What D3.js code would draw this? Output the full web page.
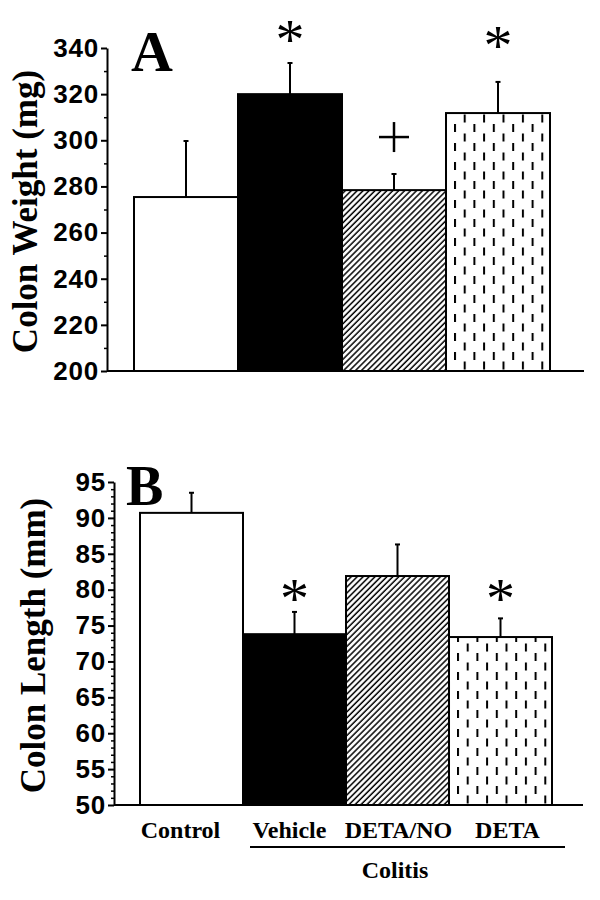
<!DOCTYPE html>
<html>
<head>
<meta charset="utf-8">
<script src="https://cdn.jsdelivr.net/npm/d3@7"></script>
<style>
  body { margin: 0; background: #fff; }
  svg { display: block; }
</style>
</head>
<body>
<svg width="600" height="900"></svg>
<script>
// groups on the x axis
const categories = ["Control", "Vehicle", "DETA/NO", "DETA"];

// panel A: colon weight (mg), mean and upper SEM
const weightMeans = [275.4, 320, 278.4, 311.8];
const weightErrors = [24.3, 13.5, 7, 13.5];
const weightTicks = [200, 220, 240, 260, 280, 300, 320, 340];
const weightMinor = [210, 230, 250, 270, 290, 310, 330];
const weightMarks = ["", "*", "+", "*"];
const weightMarkAt = [null, 347.4, 301.4, 344.8];

// panel B: colon length (mm)
const lengthMeans = [90.7, 73.8, 81.9, 73.4];
const lengthErrors = [2.8, 3.1, 4.4, 2.6];
const lengthTicks = [50, 55, 60, 65, 70, 75, 80, 85, 90, 95];
const lengthMinor = d3.range(51, 95).filter(v => v % 5 !== 0);
const lengthMarks = ["", "*", "", "*"];
const lengthMarkAt = [null, 79.9, null, 80];

const groupLabel = "Colitis";
const fills = ["#fff", "#000", "url(#hatch)", null];

const svg = d3.select("svg");
const serif = "'Liberation Serif', 'Times New Roman', serif";
const sans = "'Liberation Sans', Arial, sans-serif";

const defs = svg.append("defs");
let hatch = defs.append("pattern")
    .attr("id", "hatch")
    .attr("patternUnits", "userSpaceOnUse")
    .attr("width", 4.2).attr("height", 4.2)
    .attr("patternTransform", "rotate(45)");
hatch.append("rect").attr("width", 4.2).attr("height", 4.2).attr("fill", "#fff");
hatch.append("line")
    .attr("x1", 1).attr("y1", 0).attr("x2", 1).attr("y2", 4.2)
    .attr("stroke", "#000").attr("stroke-width", 1.5);

function dashPattern(id, x0, y0) {
  let p = defs.append("pattern")
      .attr("id", id)
      .attr("patternUnits", "userSpaceOnUse")
      .attr("x", x0).attr("y", y0)
      .attr("width", 19.4).attr("height", 19);
  p.append("rect").attr("width", 19.4).attr("height", 19).attr("fill", "#fff");
  p.append("rect").attr("x", 0).attr("y", 0).attr("width", 2).attr("height", 8).attr("fill", "#000");
  p.append("rect").attr("x", 9.7).attr("y", 9.5).attr("width", 2).attr("height", 8).attr("fill", "#000");
}

function panel(opt) {
  let g = svg.append("g");
  let x = d3.scaleBand().domain(categories).range(opt.bars).padding(0);
  let y = d3.scaleLinear().domain(opt.domain).range(opt.yRange);

  dashPattern(opt.dashId, x("DETA") + 8, opt.yRange[1]);

  // bars
  g.selectAll(".bar")
    .data(categories)
    .enter().append("rect")
    .attr("class", "bar")
    .attr("x", d => x(d))
    .attr("width", x.bandwidth())
    .attr("y", (d, i) => y(opt.means[i]))
    .attr("height", (d, i) => y(opt.domain[0]) - y(opt.means[i]))
    .attr("fill", (d, i) => fills[i] || `url(#${opt.dashId})`)
    .attr("stroke", "#000")
    .attr("stroke-width", 2);

  // upper error bars
  let eb = g.selectAll(".err")
    .data(categories)
    .enter().append("g")
    .attr("class", "err")
    .attr("transform", d => `translate(${x(d) + x.bandwidth() / 2},0)`);
  eb.append("line")
    .attr("y1", (d, i) => y(opt.means[i]))
    .attr("y2", (d, i) => y(opt.means[i] + opt.errors[i]))
    .attr("stroke", "#000").attr("stroke-width", 2);
  eb.append("line")
    .attr("x1", -2.5).attr("x2", 2.5)
    .attr("y1", (d, i) => y(opt.means[i] + opt.errors[i]))
    .attr("y2", (d, i) => y(opt.means[i] + opt.errors[i]))
    .attr("stroke", "#000").attr("stroke-width", 2);

  // significance marks
  categories.forEach((c, i) => {
    let m = opt.marks[i];
    if (!m) return;
    let cx = x(c) + x.bandwidth() / 2, cy = y(opt.markAt[i]);
    if (m === "*") {
      g.append("text")
        .attr("x", cx).attr("y", cy + 28)
        .attr("text-anchor", "middle")
        .style("font-family", serif)
        .style("font-size", "58px")
        .text("*");
    } else {
      g.append("line").attr("x1", cx - 15).attr("x2", cx + 15)
        .attr("y1", cy).attr("y2", cy).attr("stroke", "#000").attr("stroke-width", 2.5);
      g.append("line").attr("x1", cx).attr("x2", cx)
        .attr("y1", cy - 15).attr("y2", cy + 15).attr("stroke", "#000").attr("stroke-width", 2.5);
    }
  });

  // baseline
  g.append("line")
    .attr("x1", opt.axisX).attr("x2", opt.baseEnd)
    .attr("y1", y(opt.domain[0])).attr("y2", y(opt.domain[0]))
    .attr("stroke", "#000").attr("stroke-width", 2);

  // y axis
  let minor = g.append("g")
    .attr("transform", `translate(${opt.axisX},0)`)
    .call(d3.axisLeft(y).tickValues(opt.minor).tickSize(3).tickSizeOuter(0).tickFormat(""));
  minor.select(".domain").remove();
  minor.selectAll("line").attr("stroke-width", 1.5);

  let ax = g.append("g")
    .attr("transform", `translate(${opt.axisX},0)`)
    .call(d3.axisLeft(y).tickValues(opt.ticks).tickSize(6).tickSizeOuter(0).tickPadding(2));
  ax.select(".domain").attr("stroke-width", 2);
  ax.selectAll(".tick line").attr("stroke-width", 2);
  ax.selectAll("text")
    .style("font-family", sans)
    .style("font-weight", "bold")
    .style("font-size", "26px")
    .style("letter-spacing", "0.8px")
    .attr("fill", "#000");

  // axis title
  g.append("text")
    .attr("transform", `translate(${opt.titleX},${(opt.yRange[0] + opt.yRange[1]) / 2 + 2}) rotate(-90)`)
    .attr("text-anchor", "middle")
    .style("font-family", serif)
    .style("font-weight", "bold")
    .style("font-size", "35px")
    .text(opt.title);

  // panel letter
  g.append("text")
    .attr("x", opt.letterPos[0]).attr("y", opt.letterPos[1])
    .style("font-family", serif)
    .style("font-weight", "bold")
    .style("font-size", opt.letterSize)
    .text(opt.letter);

  return { g, x, y };
}

panel({
  letter: "A", letterPos: [131, 71], letterSize: "58px",
  title: "Colon Weight (mg)", titleX: 37,
  means: weightMeans, errors: weightErrors,
  ticks: weightTicks, minor: weightMinor,
  marks: weightMarks, markAt: weightMarkAt,
  domain: [200, 340], yRange: [371, 48],
  axisX: 107, bars: [134, 550], baseEnd: 584, dashId: "dashA"
});

panel({
  letter: "B", letterPos: [126, 505], letterSize: "56px",
  title: "Colon Length (mm)", titleX: 45,
  means: lengthMeans, errors: lengthErrors,
  ticks: lengthTicks, minor: lengthMinor,
  marks: lengthMarks, markAt: lengthMarkAt,
  domain: [50, 95], yRange: [805, 482],
  axisX: 114, bars: [140, 552], baseEnd: 583, dashId: "dashB"
});

// category labels under panel B
let labelX = d3.scalePoint().domain(categories).range([180.5, 507.5]);
svg.append("g").selectAll("text")
  .data(categories)
  .enter().append("text")
  .attr("x", d => labelX(d))
  .attr("y", 838)
  .attr("text-anchor", "middle")
  .style("font-family", serif)
  .style("font-weight", "bold")
  .style("font-size", "24px")
  .text(d => d);

// colitis group bracket
svg.append("line")
  .attr("x1", 250).attr("x2", 565)
  .attr("y1", 847).attr("y2", 847)
  .attr("stroke", "#000").attr("stroke-width", 2);
svg.append("text")
  .attr("x", 395).attr("y", 878)
  .attr("text-anchor", "middle")
  .style("font-family", serif)
  .style("font-weight", "bold")
  .style("font-size", "24px")
  .text(groupLabel);
</script>
</body>
</html>
